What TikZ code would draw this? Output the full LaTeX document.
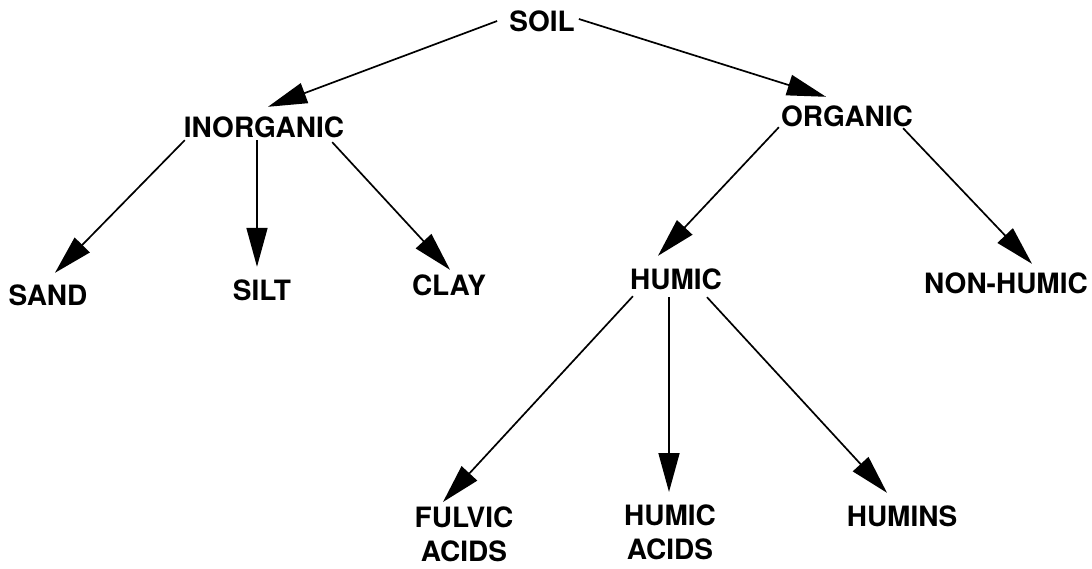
\documentclass[tikz,border=0pt]{standalone}
\usepackage{fontspec}
\setmainfont{TeX Gyre Heros}
\usetikzlibrary{arrows.meta,calc}
\begin{document}
\begin{tikzpicture}[x=1pt,y=-1pt,
  term/.style={inner sep=0pt, font=\fontsize{28}{34}\selectfont\bfseries,
               text height=20pt, text depth=0pt},
  termtwo/.style={inner sep=0pt, font=\fontsize{28}{34}\selectfont\bfseries,
                  align=center, anchor=north},
  branch/.style={line width=1.7pt, -{Triangle[length=39pt,width=21pt]}}]
\useasboundingbox (0,0) rectangle (1092,568);

% classification terms
\node[term] (soil)   at (542,21)  {SOIL};
\node[term] (inorg)  at (264,127) {INORGANIC};
\node[term] (org)    at (847,116) {ORGANIC};
\node[term] (sand)   at (48,295)  {SAND};
\node[term] (silt)   at (262,290) {SILT};
\node[term] (clay)   at (449,285) {CLAY};
\node[term] (humic)  at (676,279) {HUMIC};
\node[term] (nonhum) at (1006,283) {NON-HUMIC};
\node[termtwo] (fulvic) at (464,507) {FULVIC\\ACIDS};
\node[termtwo] (hacids) at (670,505) {HUMIC\\ACIDS};
\node[term] (humins) at (902,516) {HUMINS};

% branches of the classification
\draw[branch] ($(soil.west)+(-12,0)$) -- ($(inorg.north)+(4,-10)$);
\draw[branch] ($(soil.east)+(4,-2)$) -- ($(org.north)+(-21,-9)$);
\draw[branch] ($(inorg.south west)+(1,3)$) -- ($(sand.north)+(7,-12)$);
\draw[branch] ($(inorg.south)+(-7,3)$) -- ($(silt.north)+(-5,-13)$);
\draw[branch] ($(inorg.south east)+(-12,5)$) -- ($(clay.north)+(1,-5)$);
\draw[branch] ($(org.south west)+(-2,1)$) -- ($(humic.north)+(-18,-13)$);
\draw[branch] ($(org.south east)+(-10,2)$) -- ($(nonhum.north)+(26,-9)$);
\draw[branch] ($(humic.south west)+(3,7)$) -- ($(fulvic.north)+(-21,-5)$);
\draw[branch] ($(humic.south)+(-7,8)$) -- ($(hacids.north)+(-1,-13)$);
\draw[branch] ($(humic.south)+(31,8)$) -- ($(humins.north)+(-15,-13)$);
\end{tikzpicture}
\end{document}
